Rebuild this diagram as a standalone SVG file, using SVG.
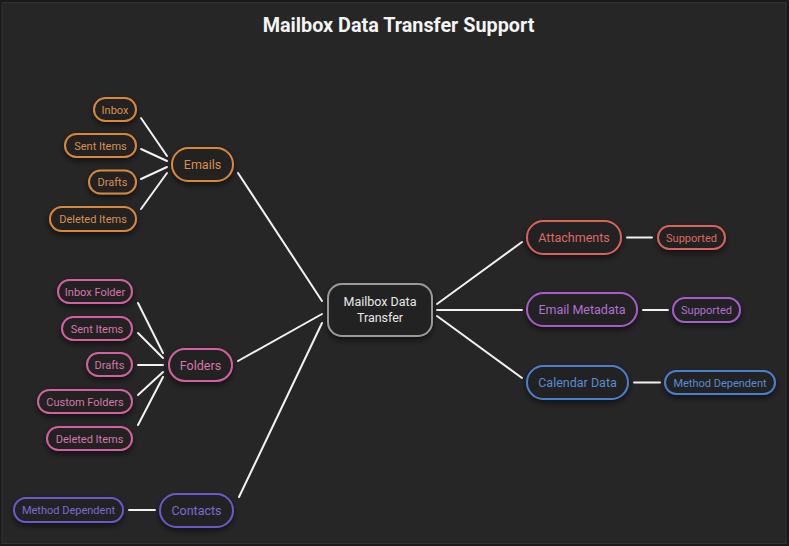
<svg xmlns="http://www.w3.org/2000/svg" width="789" height="546" viewBox="0 0 789 546">
<defs>
<filter id="sh" x="-30%" y="-30%" width="160%" height="180%">
<feDropShadow dx="0" dy="3" stdDeviation="3" flood-color="#000" flood-opacity="0.55"/>
</filter>
<style>
text{font-family:Roboto,"Liberation Sans",sans-serif;text-anchor:middle}
.n rect{fill:#202020;stroke-width:2;filter:url(#sh)}
.m text{font-size:12.5px}
.l text{font-size:11px}
.or rect{stroke:#d98739}.or text{fill:#dc8f4c}
.pk rect{stroke:#d3619f}.pk text{fill:#d875aa}
.rd rect{stroke:#d9625a}.rd text{fill:#de6a61}
.pu rect{stroke:#a85ccb}.pu text{fill:#b270d3}
.bl rect{stroke:#4a7fcf}.bl text{fill:#5a8bd4}
.in rect{stroke:#6a58cc}.in text{fill:#7b6cd3}
.c rect{stroke:#9a9a9a}.c text{fill:#e8e8e8;font-size:12.5px}
#edges line{stroke:#f2f2f2;stroke-width:2;stroke-linecap:round}
</style>
</defs>
<rect x="0" y="0" width="789" height="546" fill="#1a1a1a"/>
<rect x="2" y="2.5" width="784" height="541" fill="#262626" stroke="#333" stroke-width="1"/>
<text x="398.5" y="32" style="font-size:19.8px;font-weight:bold;fill:#f4f4f4">Mailbox Data Transfer Support</text>

<g id="edges">
<line x1="141" y1="118" x2="167" y2="156"/>
<line x1="141" y1="149" x2="167" y2="161"/>
<line x1="141" y1="179" x2="167" y2="167"/>
<line x1="141" y1="209" x2="167" y2="173"/>
<line x1="238" y1="173" x2="322" y2="301"/>
<line x1="138" y1="303" x2="163" y2="353"/>
<line x1="138" y1="333" x2="163" y2="358"/>
<line x1="138" y1="365" x2="163" y2="365"/>
<line x1="138" y1="395" x2="163" y2="372"/>
<line x1="138" y1="425" x2="163" y2="377"/>
<line x1="238" y1="361" x2="322" y2="314"/>
<line x1="239" y1="497" x2="322" y2="323"/>
<line x1="129" y1="510" x2="155" y2="510"/>
<line x1="437" y1="304" x2="522" y2="242"/>
<line x1="437" y1="310" x2="522" y2="310"/>
<line x1="437" y1="316" x2="522" y2="378"/>
<line x1="627" y1="237.5" x2="652" y2="237.5"/>
<line x1="643" y1="310" x2="668" y2="310"/>
<line x1="634" y1="382.5" x2="660" y2="382.5"/>
</g>

<g id="center" class="n c"><rect x="328" y="284" width="104" height="52" rx="14"/><text x="380" y="306">Mailbox Data</text><text x="380" y="322">Transfer</text></g>

<g id="emails" class="n m or"><rect x="172" y="148" width="61" height="33" rx="16.5"/><text x="202.5" y="169">Emails</text></g>
<g id="inbox" class="n l or"><rect x="94" y="98" width="42" height="23" rx="11.5"/><text x="115" y="113.5">Inbox</text></g>
<g id="sent-items" class="n l or"><rect x="65" y="134" width="71" height="23" rx="11.5"/><text x="100.5" y="149.5">Sent Items</text></g>
<g id="drafts" class="n l or"><rect x="89" y="170.5" width="47" height="23" rx="11.5"/><text x="112.5" y="186">Drafts</text></g>
<g id="deleted-items" class="n l or"><rect x="50" y="207" width="86" height="24" rx="12"/><text x="93" y="223">Deleted Items</text></g>

<g id="folders" class="n m pk"><rect x="169" y="349" width="63" height="32" rx="16"/><text x="200.5" y="369.5">Folders</text></g>
<g id="inbox-folder" class="n l pk"><rect x="58" y="280" width="74" height="23" rx="11.5"/><text x="95" y="295.5">Inbox Folder</text></g>
<g id="folder-sent-items" class="n l pk"><rect x="62" y="317" width="70" height="23" rx="11.5"/><text x="97" y="332.5">Sent Items</text></g>
<g id="folder-drafts" class="n l pk"><rect x="87" y="353" width="45" height="23" rx="11.5"/><text x="109.5" y="368.5">Drafts</text></g>
<g id="custom-folders" class="n l pk"><rect x="38" y="390" width="94" height="23" rx="11.5"/><text x="85" y="405.5">Custom Folders</text></g>
<g id="folder-deleted-items" class="n l pk"><rect x="47" y="427" width="85" height="23" rx="11.5"/><text x="89.5" y="442.5">Deleted Items</text></g>

<g id="contacts" class="n m in"><rect x="160" y="494" width="73" height="33" rx="16.5"/><text x="196.5" y="515">Contacts</text></g>
<g id="contacts-method" class="n l in"><rect x="14" y="498" width="109" height="24" rx="12"/><text x="68.5" y="514">Method Dependent</text></g>

<g id="attachments" class="n m rd"><rect x="527" y="221" width="94" height="33" rx="16.5"/><text x="574" y="242">Attachments</text></g>
<g id="attachments-supported" class="n l rd"><rect x="658" y="226" width="67" height="23" rx="11.5"/><text x="691.5" y="241.5">Supported</text></g>

<g id="email-metadata" class="n m pu"><rect x="527" y="293" width="110" height="33" rx="16.5"/><text x="582" y="314">Email Metadata</text></g>
<g id="metadata-supported" class="n l pu"><rect x="673" y="298" width="67" height="24" rx="12"/><text x="706.5" y="314">Supported</text></g>

<g id="calendar-data" class="n m bl"><rect x="527" y="366" width="101" height="33" rx="16.5"/><text x="577.5" y="387">Calendar Data</text></g>
<g id="calendar-method" class="n l bl"><rect x="665" y="371" width="110" height="23" rx="11.5"/><text x="720" y="386.5">Method Dependent</text></g>
</svg>
